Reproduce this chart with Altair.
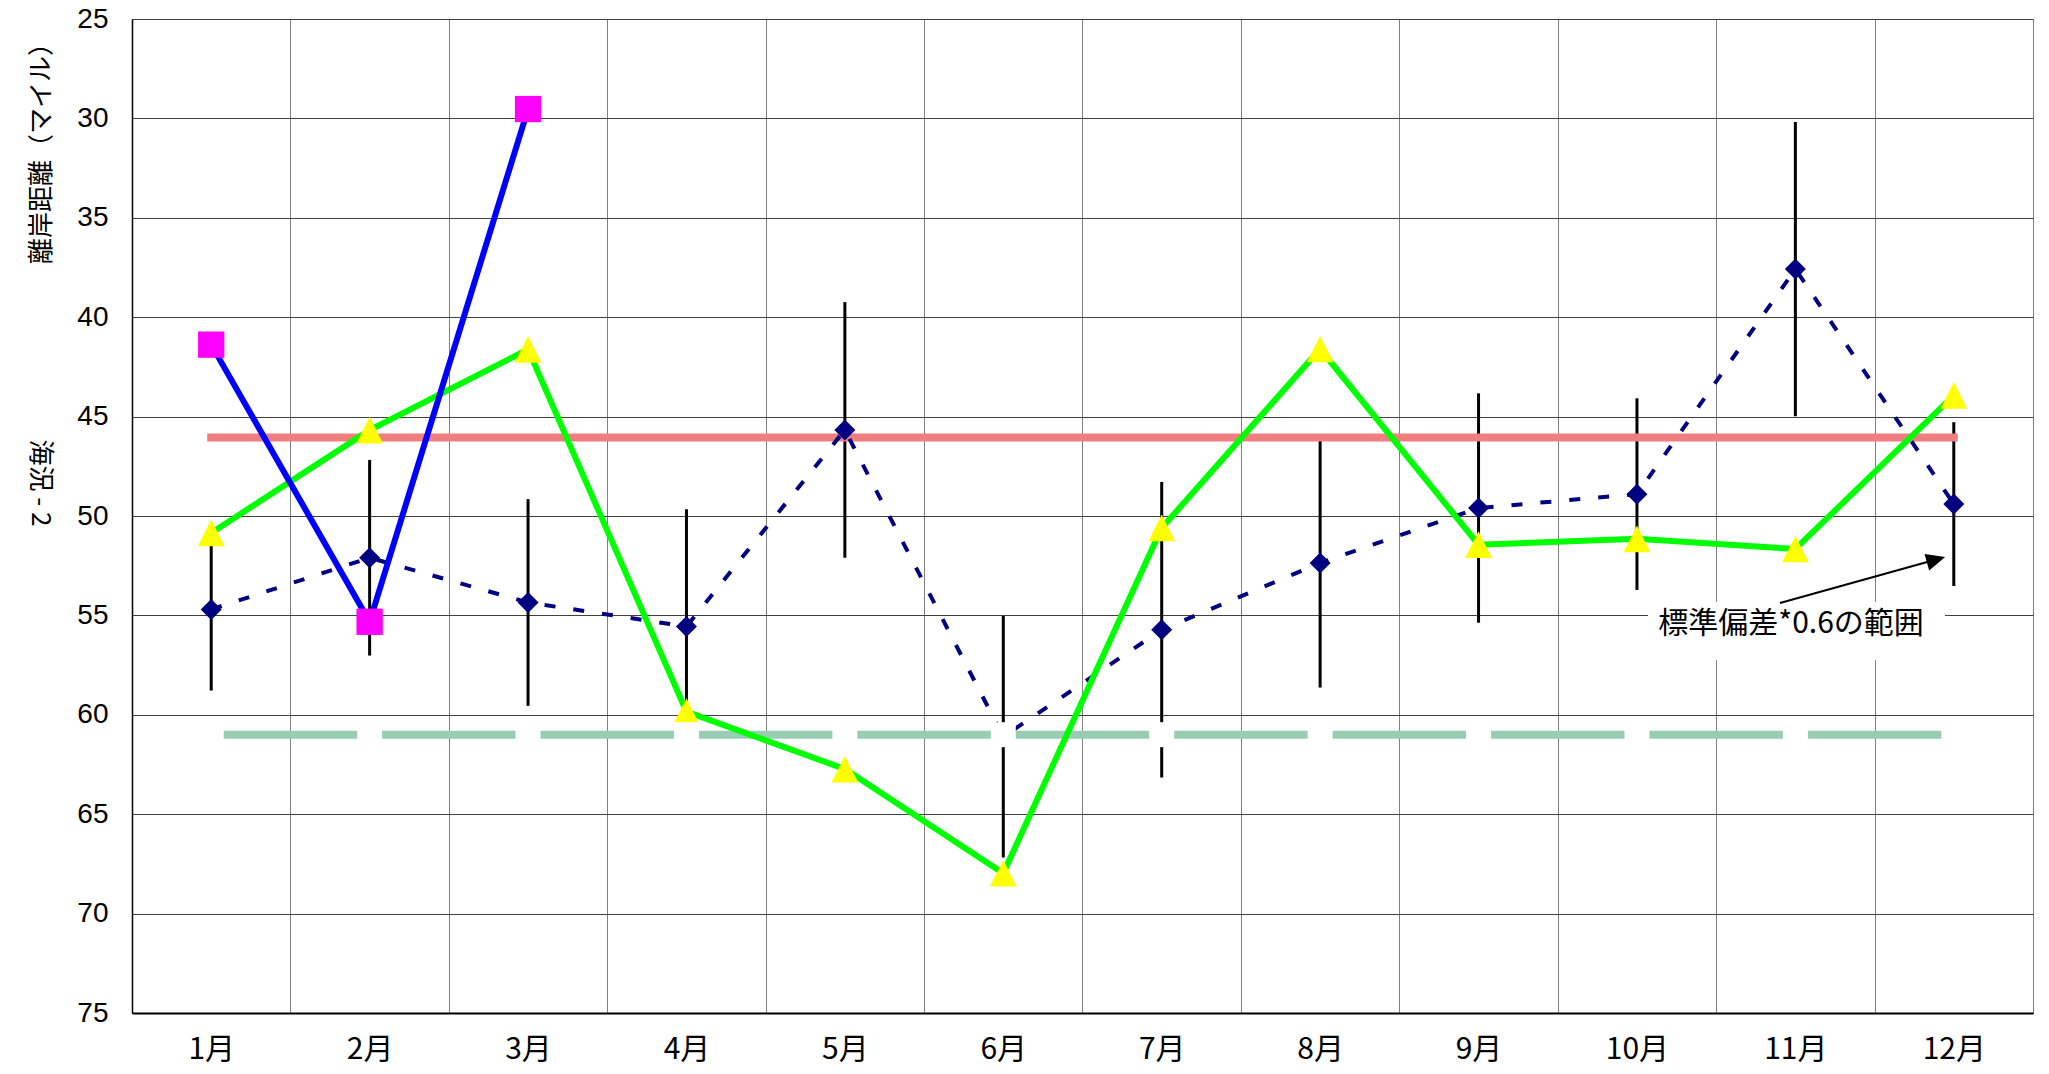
import altair as alt
import pandas as pd

months = ["1月", "2月", "3月", "4月", "5月", "6月", "7月", "8月", "9月", "10月", "11月", "12月"]
mean_dist = [54.7, 52.1, 54.35, 55.56, 45.67, 61.1, 55.72, 52.36, 49.6, 48.9, 37.58, 49.4]
sd06 = [4.08, 4.92, 5.2, 5.9, 6.43, 6.08, 7.43, 6.27, 5.77, 4.82, 7.4, 4.12]
sea_dist = [50.85, 45.68, 41.62, 59.84, 62.73, 67.97, 50.6, 41.6, 51.44, 51.15, 51.66, 43.93]
blue_months = ["1月", "2月", "3月"]
blue_dist = [41.38, 55.32, 29.53]
avg_level = 46.05
low_level = 61.0
y_ticks = [25, 30, 35, 40, 45, 50, 55, 60, 65, 70, 75]

df_mean = pd.DataFrame({
    "month": months,
    "v": mean_dist,
    "lo": [m - s for m, s in zip(mean_dist, sd06)],
    "hi": [m + s for m, s in zip(mean_dist, sd06)],
})
df_sea = pd.DataFrame({"month": months, "v": sea_dist})
df_blue = pd.DataFrame({"month": blue_months, "v": blue_dist})
df_avg = pd.DataFrame({"month": months, "v": [avg_level] * len(months)})
df_low = pd.DataFrame({"month": months, "v": [low_level] * len(months)})

x_scale = alt.Scale(type="band", domain=months, paddingInner=0, paddingOuter=0)
y_scale = alt.Scale(domain=[25, 75], reverse=True, nice=False, zero=False)

x_axis = alt.Axis(
    tickBand="extent", grid=True, gridColor="#808080", gridWidth=1,
    ticks=False, labelAngle=0, labelFont="Noto Sans CJK JP", labelFontSize=30,
    labelPadding=21, labelColor="black", domainColor="black", domainWidth=2,
    title=None,
)
y_axis = alt.Axis(
    values=y_ticks, grid=True, gridColor="#404040", gridWidth=1, ticks=False,
    tickSize=0, labelPadding=24, labelFont="Liberation Sans", labelFontSize=28,
    labelColor="black", domainColor="black", domainWidth=1.5, title=None,
)

X = alt.X("month:N", scale=x_scale, sort=months, axis=x_axis)
Y = alt.Y("v:Q", scale=y_scale, axis=y_axis)

err = alt.Chart(df_mean).mark_rule(color="black", strokeWidth=3).encode(
    x=X, y=alt.Y("lo:Q", scale=y_scale, axis=y_axis), y2="hi:Q"
)
avg_line = alt.Chart(df_avg).mark_line(color="#F07E7E", strokeWidth=8, strokeCap="square").encode(x=X, y=Y)
low_line = alt.Chart(df_low).mark_line(color="#99CDB3", strokeWidth=8).encode(x=X, y=Y)
mean_line = alt.Chart(df_mean).mark_line(color="#000080", strokeWidth=4, strokeDash=[11, 18]).encode(x=X, y=Y)
sea_line = alt.Chart(df_sea).mark_line(color="#00FF00", strokeWidth=6).encode(x=X, y=Y)
blue_line = alt.Chart(df_blue).mark_line(color="#0000FF", strokeWidth=6).encode(x=X, y=Y)

mean_pts = alt.Chart(df_mean).mark_point(shape="diamond", filled=True, color="#000080", size=441, opacity=1).encode(x=X, y=Y)
sea_pts = alt.Chart(df_sea).mark_point(shape="M0,-1L1,1L-1,1Z", filled=True, color="#FFFF00", size=713, opacity=1).encode(x=X, y=Y)
blue_pts = alt.Chart(df_blue).mark_point(shape="square", filled=True, color="#FF00FF", size=692, opacity=1).encode(x=X, y=Y)
low_pts = alt.Chart(df_low).mark_point(shape="square", filled=True, color="white", size=625, opacity=1).encode(x=X, y=Y)

note_df = pd.DataFrame({"t": ["標準偏差*0.6の範囲"]})
note_box = alt.Chart(note_df).mark_rect(color="white").encode(
    x=alt.value(1516), x2=alt.value(1813), y=alt.value(583), y2=alt.value(641)
)
note_text = alt.Chart(note_df).mark_text(
    font="Noto Sans CJK JP", fontSize=30, color="black", align="center", baseline="middle"
).encode(x=alt.value(1659), y=alt.value(605), text="t:N")
arrow_line = alt.Chart(note_df).mark_rule(color="black", strokeWidth=2).encode(
    x=alt.value(1648), y=alt.value(584), x2=alt.value(1806), y2=alt.value(540)
)
arrow_head = alt.Chart(note_df).mark_point(
    shape="M1,0L-1,-0.9L-1,0.9Z", filled=True, color="black", size=361, opacity=1, angle=344.4
).encode(x=alt.value(1804), y=alt.value(540.6))

t1_df = pd.DataFrame({"t": ["離岸距離（マイル）"]})
t2_df = pd.DataFrame({"t": ["海況 - 2"]})
title1 = alt.Chart(t1_df).mark_text(
    font="Noto Sans CJK JP", fontSize=26, color="black", angle=270, align="center", baseline="middle"
).encode(x=alt.value(-90), y=alt.value(128), text="t:N")
title2 = alt.Chart(t2_df).mark_text(
    font="Noto Sans CJK JP", fontSize=26, color="black", angle=90, align="center", baseline="middle"
).encode(x=alt.value(-92), y=alt.value(464), text="t:N")

chart = alt.layer(
    err, avg_line, low_line, mean_line, sea_line, blue_line,
    mean_pts, sea_pts, blue_pts, low_pts,
    note_box, note_text, arrow_line, arrow_head, title1, title2,
).properties(
    width=1901, height=994,
    autosize=alt.AutoSizeParams(type="none"),
    padding={"left": 124, "top": 11, "right": 8, "bottom": 60},
).configure_view(stroke="#404040", strokeWidth=1)

chart.save("out.html", embed_options={"renderer": "svg", "actions": False})
